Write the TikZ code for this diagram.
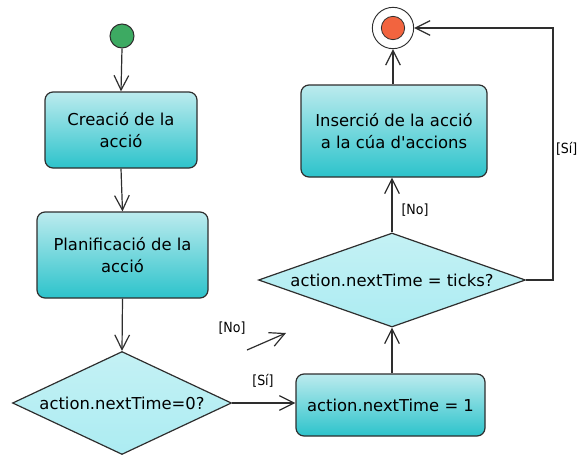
\documentclass[tikz,border=0pt]{standalone}
\usepackage{fontspec}
\setmainfont{DejaVu Sans}
\newfontfamily\guardfont{DejaVu Sans Condensed}
\usetikzlibrary{shapes.geometric,arrows.meta}

\definecolor{boxtop}{HTML}{BCEBEE}
\definecolor{boxbot}{HTML}{2CC3CB}
\definecolor{dmtop}{HTML}{C4F1F4}
\definecolor{dmmid}{HTML}{ECFBFC}
\definecolor{dmbot}{HTML}{ACECF2}
\definecolor{edge}{HTML}{2E2E2E}
\definecolor{startfill}{HTML}{3DAA62}
\definecolor{endfill}{HTML}{F2643F}

\tikzset{
  actbox/.style={rectangle, rounded corners=6pt, draw=edge, line width=0.9pt,
    top color=boxtop, bottom color=boxbot, align=center, inner sep=2pt,
    font=\fontsize{12.3}{16.5}\selectfont},
  decision/.style={diamond, draw=edge, line width=0.9pt, inner sep=0pt,
    shape aspect=3, top color=dmtop, middle color=dmmid, bottom color=dmbot,
    font=\fontsize{12.3}{16.5}\selectfont},
  flow/.style={draw=edge, line width=0.9pt,
    -{Straight Barb[length=11pt,width=11pt,line width=0.9pt]}},
  guard/.style={font=\guardfont\fontsize{10.5}{12}\selectfont, text=black, inner sep=1pt},
}

\begin{document}
\begin{tikzpicture}[x=0.75pt,y=-0.75pt]
\useasboundingbox (0,0) rectangle (579,454);

% initial and final states
\node (start) [circle, draw=edge, line width=0.8pt, fill=startfill, minimum size=18pt, inner sep=0pt] at (122,36) {};
\node (endo) [circle, draw=edge, line width=0.7pt, fill=white, minimum size=31pt, inner sep=0pt] at (393,28) {};
\node (endi) [circle, draw=edge, line width=0.6pt, fill=endfill, minimum size=17.5pt, inner sep=0pt] at (393,28) {};

% actions
\node (create) [actbox, minimum width=114pt, minimum height=57pt] at (121,130) {Creació de la\\acció};
\node (plan) [actbox, minimum width=128.25pt, minimum height=64.5pt] at (122.5,255) {Planificació de la\\acció};
\node (setone) [actbox, minimum width=141.75pt, minimum height=46.5pt] at (390.5,405) {action.nextTime = 1};
\node (insert) [actbox, minimum width=139.5pt, minimum height=69pt] at (394,131) {Inserció de la acció\\a la cúa d\textquotesingle accions};

% decisions
\node (zero) [decision, minimum width=164.25pt, minimum height=77.25pt] at (122,403) {action.nextTime=0?};
\node (ticks) [decision, minimum width=200.25pt, minimum height=70.5pt] at (392,280) {action.nextTime = ticks?};

% flow
\draw[flow] (start.south) -- (create.north);
\draw[flow] (create.south) -- (plan.north);
\draw[flow] (plan.south) -- (zero.north);
\draw[flow] (zero.east) -- (zero.east -| setone.west);
\draw[flow] (setone.north -| ticks.south) -- (ticks.south);
\draw[flow] (ticks.north) -- (ticks.north |- insert.south);
\draw[flow] (insert.north -| endo.south) -- (endo.south);
\coordinate (loop) at (553,280);
\draw[flow] (ticks.east) -- (loop) -- (loop |- endo.east) -- (endo.east);

% free-standing [No] branch of the first decision
\coordinate (nofrom) at (247,350);
\coordinate (noto) at (286,333);
\draw[flow] (nofrom) -- (noto);

% guards
\node (gno1) [guard] at (232,328) {[No]};
\node (gsi1) [guard] at (263,381) {[Sí]};
\node (gno2) [guard] at (415,210) {[No]};
\node (gsi2) [guard, anchor=east] at (579,149) {[Sí]};
\end{tikzpicture}
\end{document}
